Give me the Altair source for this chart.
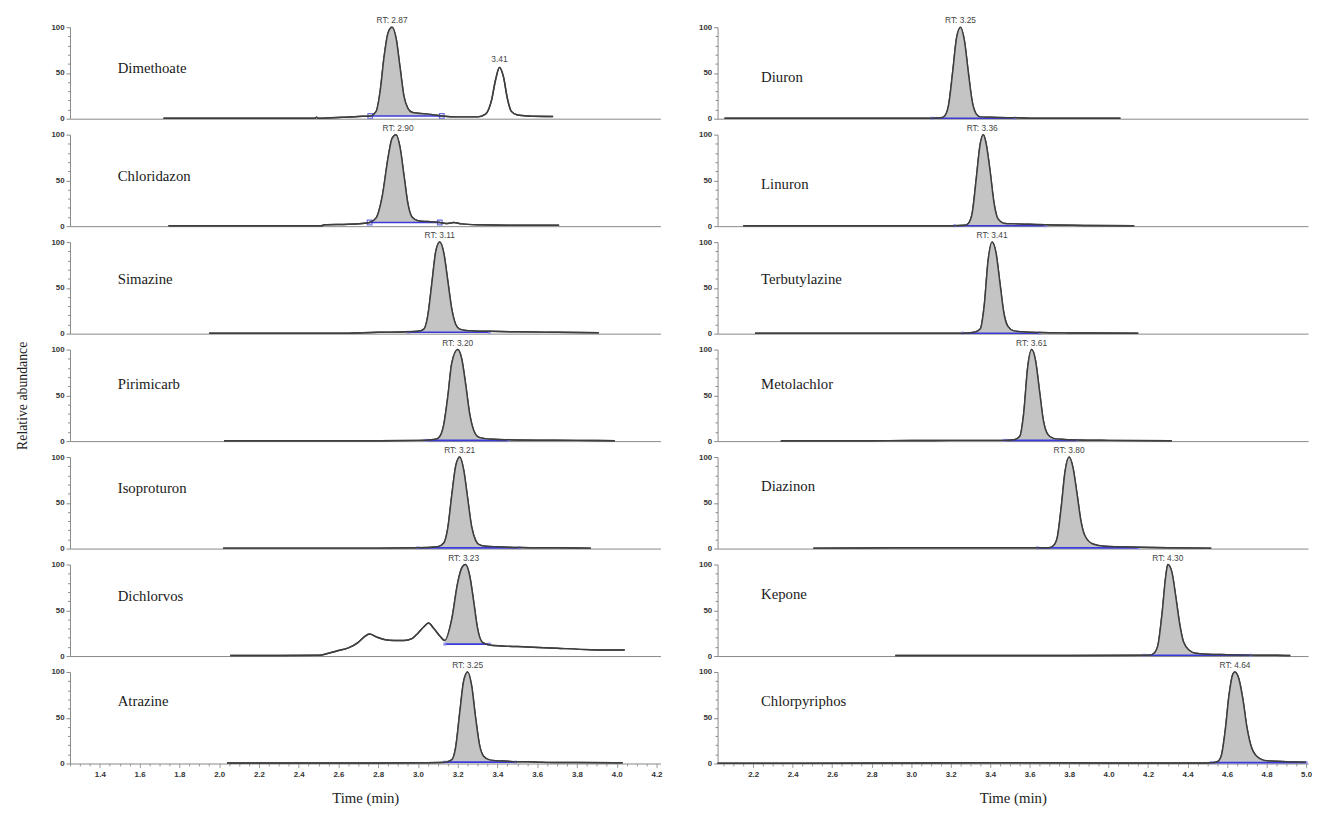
import altair as alt
import pandas as pd
import numpy as np

# ---------------- data ----------------
LEFT_DOMAIN = [1.25, 4.22]
RIGHT_DOMAIN = [2.02, 5.01]
Y_TICKS = [0, 10, 20, 30, 40, 50, 60, 70, 80, 90, 100]

LEFT_NAMES = ["Dimethoate", "Chloridazon", "Simazine", "Pirimicarb", "Isoproturon", "Dichlorvos", "Atrazine"]
RIGHT_NAMES = ["Diuron", "Linuron", "Terbutylazine", "Metolachlor", "Diazinon", "Kepone", "Chlorpyriphos"]
LEFT_RT = [2.87, 2.90, 3.11, 3.20, 3.21, 3.23, 3.25]
RIGHT_RT = [3.25, 3.36, 3.41, 3.61, 3.80, 4.30, 4.64]
LEFT_NAME_Y = [55, 55, 60, 62, 66, 66, 68]
RIGHT_NAME_Y = [46, 46, 60, 62, 68, 68, 68]
NAME_X = {"left": 1.49, "right": 2.24}

# integration windows (start, end, baseline level)
LEFT_WIN = [(2.76, 3.12, 3), (2.757, 3.11, 4), (2.95, 3.36, 1.5), (3.04, 3.455, 0.8),
            (3.00, 3.51, 0.8), (3.135, 3.36, 13), (3.135, 3.49, 1.5)]
RIGHT_WIN = [(3.105, 3.525, 0.5), (3.22, 3.68, 0.5), (3.26, 3.65, 0.5), (3.47, 3.84, 0.8),
             (3.64, 4.15, 0.8), (4.18, 4.72, 0.8), (4.52, 5.0, 1)]

DIMETHOATE_T = [1.72, 2.00, 2.30, 2.48, 2.49, 2.50, 2.62, 2.70, 2.76, 2.79, 2.81, 2.83, 2.85, 2.87, 2.89, 2.91,
                2.93, 2.95, 2.97, 3.00, 3.05, 3.12, 3.20, 3.30, 3.34, 3.37, 3.39, 3.41, 3.43, 3.45, 3.47, 3.50, 3.55, 3.68]
DIMETHOATE_Y = [0.5, 0.5, 0.5, 0.5, 1.5, 0.5, 1.5, 2.5, 3, 8, 30, 68, 94, 100, 88, 56,
                24, 11, 7, 6, 5, 3, 2, 2, 5, 20, 42, 56, 46, 22, 8, 4, 3, 2.5]
CHLORIDAZON_T = [1.745, 2.0, 2.3, 2.515, 2.53, 2.65, 2.72, 2.757, 2.79, 2.82, 2.85, 2.87, 2.89, 2.91, 2.93,
                 2.95, 2.97, 3.00, 3.05, 3.11, 3.15, 3.18, 3.22, 3.30, 3.45, 3.60, 3.71]
CHLORIDAZON_Y = [0.5, 0.5, 0.5, 0.5, 1.5, 2, 3, 4, 9, 32, 75, 96, 100, 86, 55,
                 24, 10, 6, 5, 4, 3, 4, 2.5, 1.5, 1, 1, 1]
SIMAZINE_T = [1.95, 2.3, 2.6, 2.80, 2.95, 3.00, 3.03, 3.05, 3.07, 3.09, 3.11, 3.13, 3.15, 3.17, 3.19, 3.21,
              3.24, 3.28, 3.36, 3.50, 3.70, 3.91]
SIMAZINE_Y = [0.5, 0.5, 0.5, 1.5, 2, 2.5, 5, 20, 55, 90, 100, 88, 58, 27, 10, 5, 3.5, 3, 2.5, 2, 1.5, 1]
PIRIMICARB_T = [2.025, 2.4, 2.8, 3.00, 3.04, 3.09, 3.11, 3.13, 3.15, 3.17, 3.20, 3.22, 3.24, 3.26, 3.28,
                3.30, 3.33, 3.38, 3.455, 3.6, 3.8, 3.99]
PIRIMICARB_Y = [0.5, 0.5, 0.5, 0.8, 1, 2, 5, 18, 48, 85, 100, 90, 62, 30, 12, 5, 3, 2, 1.5, 1, 0.8, 0.5]
ISOPROTURON_T = [2.02, 2.4, 2.8, 3.00, 3.10, 3.13, 3.15, 3.17, 3.19, 3.21, 3.23, 3.25, 3.27, 3.29, 3.31,
                 3.34, 3.40, 3.51, 3.7, 3.87]
ISOPROTURON_Y = [0.5, 0.5, 0.5, 0.8, 2, 6, 22, 58, 90, 100, 86, 55, 24, 9, 4, 2.5, 2, 1.2, 0.8, 0.5]
DICHLORVOS_T = [2.056, 2.3, 2.50, 2.55, 2.60, 2.65, 2.70, 2.73, 2.757, 2.79, 2.83, 2.88, 2.93, 2.97, 3.00,
                3.03, 3.053, 3.08, 3.11, 3.135, 3.17, 3.20, 3.22, 3.239, 3.26, 3.28, 3.30, 3.324, 3.36,
                3.42, 3.55, 3.70, 3.87, 4.04]
DICHLORVOS_Y = [0.5, 0.5, 0.8, 3, 6, 9, 15, 21, 24, 21, 18, 17, 17, 19, 25,
                32, 36, 30, 22, 17, 40, 80, 96, 100, 88, 60, 30, 15, 12,
                11, 10, 8.5, 7, 6.5]
ATRAZINE_T = [2.04, 2.4, 2.8, 3.0, 3.135, 3.17, 3.19, 3.21, 3.23, 3.25, 3.27, 3.29, 3.31, 3.33, 3.36,
              3.40, 3.45, 3.49, 3.55, 3.62, 3.8, 4.03]
ATRAZINE_Y = [0.5, 0.5, 0.5, 0.8, 1.5, 4, 18, 55, 90, 100, 85, 50, 20, 8, 4, 3, 2.5, 2, 2, 1.5, 1, 0.8]

DIURON_T = [2.055, 2.4, 2.8, 3.0, 3.105, 3.15, 3.17, 3.19, 3.21, 3.23, 3.25, 3.27, 3.29, 3.31, 3.33,
            3.35, 3.40, 3.525, 3.7, 4.06]
DIURON_Y = [0.5, 0.5, 0.5, 0.5, 0.5, 1, 3, 15, 50, 88, 100, 85, 50, 18, 5, 2, 1.5, 1, 0.5, 0.5]
LINURON_T = [2.15, 2.5, 2.9, 3.22, 3.27, 3.29, 3.31, 3.33, 3.35, 3.366, 3.38, 3.40, 3.42, 3.44, 3.475,
             3.52, 3.60, 3.68, 3.9, 4.13]
LINURON_Y = [0.5, 0.5, 0.5, 0.5, 1, 3, 15, 52, 90, 100, 90, 60, 25, 8, 3, 2.5, 2, 1.5, 0.8, 0.5]
TERBUTYLAZINE_T = [2.21, 2.6, 3.0, 3.26, 3.32, 3.35, 3.37, 3.39, 3.41, 3.43, 3.45, 3.47, 3.49, 3.52, 3.56,
                   3.65, 3.8, 4.15]
TERBUTYLAZINE_Y = [0.5, 0.5, 0.5, 0.5, 1.5, 5, 30, 80, 100, 88, 55, 22, 8, 3, 2, 1.2, 0.8, 0.5]
METOLACHLOR_T = [2.34, 2.8, 3.2, 3.47, 3.52, 3.55, 3.57, 3.59, 3.61, 3.63, 3.65, 3.67, 3.69, 3.72, 3.76,
                 3.84, 4.0, 4.32]
METOLACHLOR_Y = [0.5, 0.5, 0.8, 0.8, 1.5, 5, 30, 80, 100, 88, 55, 22, 8, 3, 2, 1.2, 0.8, 0.5]
DIAZINON_T = [2.505, 2.9, 3.3, 3.64, 3.70, 3.72, 3.74, 3.76, 3.78, 3.80, 3.82, 3.84, 3.86, 3.88, 3.92,
              3.98, 4.05, 4.15, 4.3, 4.52]
DIAZINON_Y = [0.5, 0.8, 0.8, 0.8, 1, 3, 12, 45, 85, 100, 88, 60, 30, 14, 5, 2.5, 2, 1.5, 1, 0.5]
KEPONE_T = [2.92, 3.3, 3.8, 4.18, 4.21, 4.23, 4.25, 4.27, 4.29, 4.30, 4.32, 4.34, 4.36, 4.38, 4.41,
            4.44, 4.50, 4.60, 4.72, 4.85, 4.92]
KEPONE_Y = [0.5, 0.5, 0.5, 0.8, 1, 3, 12, 45, 88, 100, 92, 65, 35, 15, 6, 3, 2, 1.5, 1, 0.8, 0.5]
CHLORPYRIPHOS_T = [2.02, 2.5, 3.0, 3.5, 4.0, 4.45, 4.52, 4.55, 4.57, 4.59, 4.61, 4.63, 4.64, 4.66, 4.68,
                   4.70, 4.72, 4.75, 4.80, 4.90, 5.0]
CHLORPYRIPHOS_Y = [0.3, 0.3, 0.5, 0.8, 0.5, 0.5, 0.8, 2, 8, 35, 75, 98, 100, 92, 70, 40, 20, 8, 3, 2, 1.5]

LEFT_TRACES = [(DIMETHOATE_T, DIMETHOATE_Y), (CHLORIDAZON_T, CHLORIDAZON_Y), (SIMAZINE_T, SIMAZINE_Y),
               (PIRIMICARB_T, PIRIMICARB_Y), (ISOPROTURON_T, ISOPROTURON_Y), (DICHLORVOS_T, DICHLORVOS_Y),
               (ATRAZINE_T, ATRAZINE_Y)]
RIGHT_TRACES = [(DIURON_T, DIURON_Y), (LINURON_T, LINURON_Y), (TERBUTYLAZINE_T, TERBUTYLAZINE_Y),
                (METOLACHLOR_T, METOLACHLOR_Y), (DIAZINON_T, DIAZINON_Y), (KEPONE_T, KEPONE_Y),
                (CHLORPYRIPHOS_T, CHLORPYRIPHOS_Y)]
# second-peak label (Dimethoate)
EXTRA_LABEL = {"Dimethoate": (3.41, 57, "3.41")}

W, H = 600, 93
SERIF = "Liberation Serif"
SANS = "Liberation Sans"
SQUARE_ROWS = {"Dimethoate", "Chloridazon"}


def minor_ticks(domain):
    start = np.ceil(domain[0] / 0.05 - 1e-9) * 0.05
    return [round(v, 2) for v in np.arange(start, domain[1] + 1e-6, 0.05)]


def panel(name, t, y, rt, win, name_y, domain, side, bottom, ytitle):
    df = pd.DataFrame({"t": t, "y": y})
    xscale = alt.Scale(domain=domain, nice=False, zero=False)
    yscale = alt.Scale(domain=[0, 100], nice=False)
    if bottom:
        xaxis = alt.Axis(values=minor_ticks(domain), grid=False,
                         labelExpr="abs(datum.value*5 - round(datum.value*5)) < 0.01 ? format(datum.value, '.1f') : ''",
                         tickSize=alt.condition("abs(datum.value*5 - round(datum.value*5)) < 0.01",
                                                alt.value(4), alt.value(2.5)),
                         labelFont=SANS, labelFontSize=8, labelFontWeight="bold", labelColor="#333",
                         tickColor="#999", domainColor="#888", labelPadding=3,
                         title="Time (min)", titleFont=SERIF, titleFontSize=15, titleFontWeight="normal",
                         titleColor="#222", titlePadding=13)
    else:
        xaxis = alt.Axis(labels=False, ticks=False, title=None, grid=False, domainColor="#888")
    yaxis_kwargs = dict(values=Y_TICKS, grid=False,
                        labelExpr="datum.value % 50 === 0 ? datum.value : ''",
                        tickSize=alt.condition("datum.value % 50 === 0", alt.value(4), alt.value(2.5)),
                        labelFont=SANS, labelFontSize=8, labelFontWeight="bold", labelColor="#333",
                        tickColor="#888", domainColor="#888", labelPadding=2)
    if ytitle:
        yaxis = alt.Axis(title="Relative abundance", titleFont=SERIF, titleFontSize=14,
                         titleFontWeight="normal", titleColor="#222", titlePadding=22, **yaxis_kwargs)
    else:
        yaxis = alt.Axis(title=None, **yaxis_kwargs)

    X = alt.X("t:Q", scale=xscale, axis=xaxis)
    Y = alt.Y("y:Q", scale=yscale, axis=yaxis)

    a, b, base = win
    base_chart = alt.Chart(df)
    fill = base_chart.transform_filter(
        (alt.datum.t >= a - 1e-9) & (alt.datum.t <= b + 1e-9)
    ).transform_calculate(base=str(base)).mark_area(
        color="#c4c4c4", interpolate="monotone", opacity=1
    ).encode(x=X, y=Y, y2="base:Q")
    line = base_chart.mark_line(color="#3e3e3e", strokeWidth=1.5, interpolate="monotone").encode(x=X, y=Y)

    wdf = pd.DataFrame({"t": [a, b], "y": [base, base]})
    blue = alt.Chart(wdf).mark_line(color="#3b3bdb", strokeWidth=1.6).encode(x=X, y=Y)
    if name in SQUARE_ROWS:
        ends = alt.Chart(wdf).mark_square(filled=False, color="#3030d0", size=22, strokeWidth=1.2).encode(x=X, y=Y)
    else:
        ends = alt.Chart(wdf).mark_square(filled=True, color="#8a8af0", size=10, opacity=0.8).encode(x=X, y=Y)

    rtdf = pd.DataFrame({"t": [rt], "y": [100], "label": [f"RT: {rt:.2f}"]})
    rtt = alt.Chart(rtdf).mark_text(font=SANS, fontSize=8.5, color="#444", baseline="bottom", dy=-2).encode(
        x=X, y=Y, text="label:N")

    ndf = pd.DataFrame({"t": [NAME_X[side]], "y": [name_y], "label": [name]})
    ntxt = alt.Chart(ndf).mark_text(font=SERIF, fontSize=15, color="#1a1a1a", align="left",
                                    baseline="middle").encode(x=X, y=Y, text="label:N")
    layers = [line, fill, blue, ends, line, rtt, ntxt]
    if name in EXTRA_LABEL:
        ex, ey, el = EXTRA_LABEL[name]
        edf = pd.DataFrame({"t": [ex], "y": [ey], "label": [el]})
        layers.append(alt.Chart(edf).mark_text(font=SANS, fontSize=8.5, color="#444", baseline="bottom",
                                               dy=-3).encode(x=X, y=Y, text="label:N"))
    return alt.layer(*layers).properties(width=W, height=H)


left_panels = []
for i, nm in enumerate(LEFT_NAMES):
    t, y = LEFT_TRACES[i]
    left_panels.append(panel(nm, t, y, LEFT_RT[i], LEFT_WIN[i], LEFT_NAME_Y[i], LEFT_DOMAIN, "left",
                             i == 6, i == 3))
right_panels = []
for i, nm in enumerate(RIGHT_NAMES):
    t, y = RIGHT_TRACES[i]
    right_panels.append(panel(nm, t, y, RIGHT_RT[i], RIGHT_WIN[i], RIGHT_NAME_Y[i], RIGHT_DOMAIN, "right",
                              i == 6, False))

left_col = alt.vconcat(*left_panels, spacing=16.2, bounds="flush")
right_col = alt.vconcat(*right_panels, spacing=16.2, bounds="flush")
chart = alt.hconcat(left_col, right_col, spacing=36).properties(
    padding={"left": 7, "top": 2, "right": 0, "bottom": 0},
    background="white",
).configure_view(strokeWidth=0, stroke=None)

chart.save("out.html", embed_options={"renderer": "svg", "actions": False})
